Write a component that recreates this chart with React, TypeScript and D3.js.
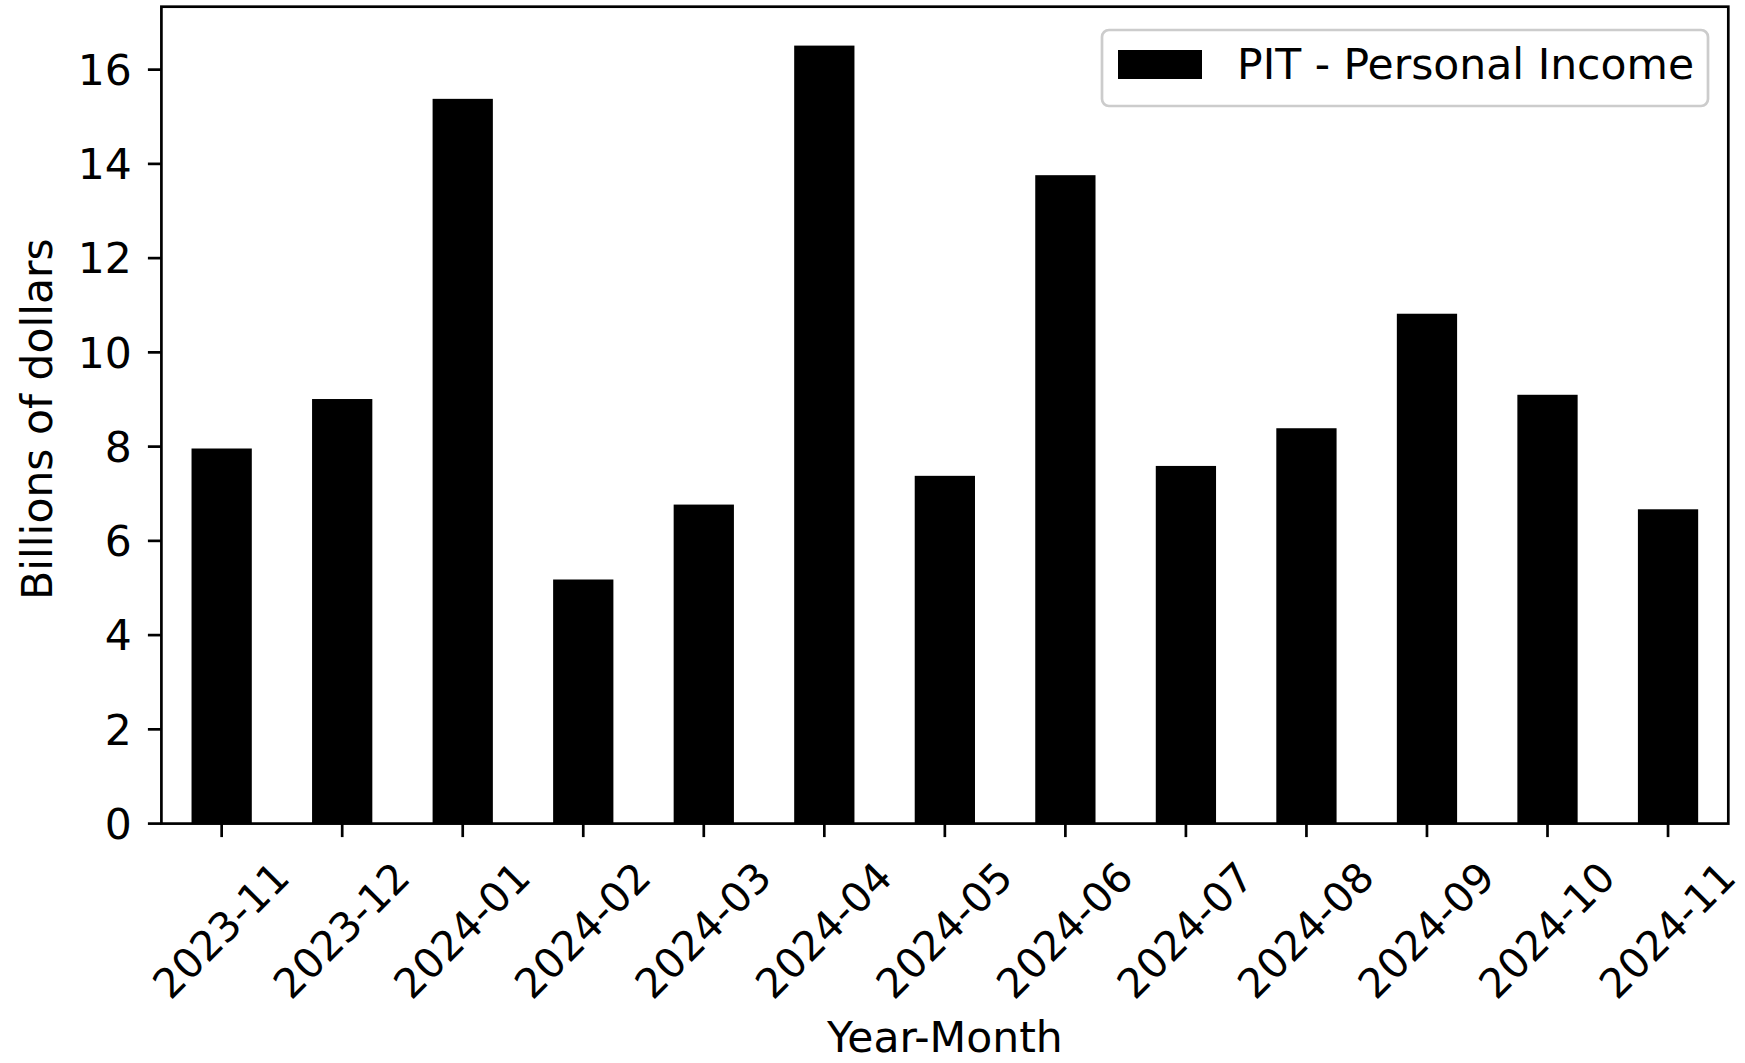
import React from "react";
import * as d3 from "d3";

const categories = [
  "2023-11", "2023-12", "2024-01", "2024-02", "2024-03", "2024-04", "2024-05",
  "2024-06", "2024-07", "2024-08", "2024-09", "2024-10", "2024-11",
];
const pitValues = [7.96, 9.01, 15.38, 5.18, 6.77, 16.51, 7.38, 13.76, 7.59, 8.39, 10.82, 9.1, 6.67];
const yTicks = [0, 2, 4, 6, 8, 10, 12, 14, 16];
const seriesName = "PIT - Personal Income";
const xTitle = "Year-Month";
const yTitle = "Billions of dollars";

const W = 1745;
const H = 1063;
const left = 161.4;
const right = 1728.3;
const top = 6.7;
const bottom = 823.6;
const FONT = "DejaVu Sans";
const FS = 42.5;
const FS_X = 41;

export default function App() {
  const yMax = (d3.max(pitValues) as number) * 1.05;
  const y = d3.scaleLinear().domain([0, yMax]).range([bottom, top]);
  const x = d3
    .scaleBand<string>()
    .domain(categories)
    .range([left, right])
    .paddingInner(0.5)
    .paddingOuter(0.25);
  const bw = x.bandwidth();
  const tickLen = 13.5;
  const axisW = 2.7;

  return (
    <div>
      <style>{`body{margin:0}`}</style>
      <svg width={W} height={H} style={{ display: "block", background: "#fff" }} fontFamily={FONT}>
        {/* bars */}
        {categories.map((c, i) => (
          <rect
            key={c}
            x={x(c)}
            y={y(pitValues[i])}
            width={bw}
            height={bottom - y(pitValues[i])}
            fill="#000"
          />
        ))}
        {/* y ticks */}
        {yTicks.map((t) => (
          <g key={t}>
            <line x1={left - tickLen} x2={left} y1={y(t)} y2={y(t)} stroke="#000" strokeWidth={axisW} />
            <text x={left - tickLen - 16} y={y(t)} dy="0.36em" textAnchor="end" fontSize={FS} fill="#000">
              {t}
            </text>
          </g>
        ))}
        {/* x ticks */}
        {categories.map((c) => {
          const cx = (x(c) as number) + bw / 2;
          return (
            <g key={c}>
              <line x1={cx} x2={cx} y1={bottom} y2={bottom + tickLen} stroke="#000" strokeWidth={axisW} />
              <text
                transform={`translate(${cx - 1},930) rotate(-45)`}
                textAnchor="middle"
                dy="0.36em"
                fontSize={FS_X}
                fill="#000"
              >
                {c}
              </text>
            </g>
          );
        })}
        {/* frame */}
        <rect
          x={left}
          y={top}
          width={right - left}
          height={bottom - top}
          fill="none"
          stroke="#000"
          strokeWidth={axisW}
        />
        {/* axis titles */}
        <text x={(left + right) / 2} y={1052} textAnchor="middle" fontSize={FS} fill="#000">
          {xTitle}
        </text>
        <text transform={`translate(52,${(top + bottom) / 2 + 4}) rotate(-90)`} textAnchor="middle" fontSize={FS} fill="#000">
          {yTitle}
        </text>
        {/* legend */}
        <g>
          <rect x={1102} y={30} width={606} height={76} rx={7} ry={7} fill="#fff" fillOpacity={0.8} stroke="#cccccc" strokeWidth={2.7} />
          <rect x={1118} y={50} width={84} height={29} fill="#000" />
          <text x={1237} y={79} fontSize={FS} fill="#000">
            {seriesName}
          </text>
        </g>
      </svg>
    </div>
  );
}
